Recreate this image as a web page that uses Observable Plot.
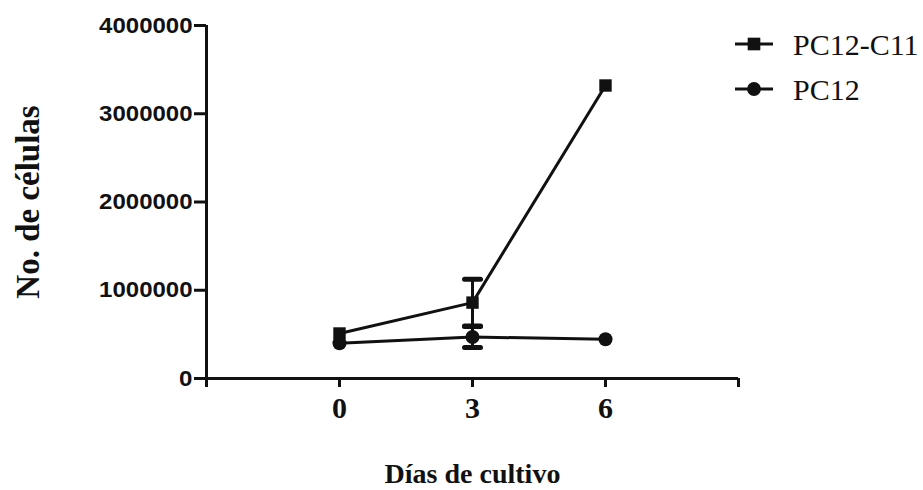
<!DOCTYPE html>
<html>
<head>
<meta charset="utf-8">
<script src="https://cdn.jsdelivr.net/npm/d3@7"></script>
<script src="https://cdn.jsdelivr.net/npm/@observablehq/plot@0.6"></script>
<style>
  body { margin: 0; background: #fff; }
  #wrap { position: relative; width: 923px; height: 490px; }
</style>
</head>
<body>
<div id="wrap"></div>
<script>
const series = ["PC12-C11", "PC12"];
const symbols = ["square", "circle"];
const days = [0, 3, 6];
const pc12c11 = [510000, 860000, 3320000];
const pc12c11Err = [0, 265000, 0];
const pc12 = [400000, 470000, 445000];
const pc12Err = [0, 120000, 0];
const yTicks = [0, 1000000, 2000000, 3000000, 4000000];
const xTicks = [0, 3, 6];
const xDomain = [-3, 9];
const yDomain = [0, 4000000];
const xTitle = "Días de cultivo";
const yTitle = "No. de células";

const rows = [];
days.forEach((d, i) => {
  rows.push({series: series[0], day: d, value: pc12c11[i], err: pc12c11Err[i]});
});
days.forEach((d, i) => {
  rows.push({series: series[1], day: d, value: pc12[i], err: pc12Err[i]});
});
const errRows = rows.filter(r => r.err > 0);

const cap = { draw(ctx) { ctx.moveTo(-8, 0); ctx.lineTo(8, 0); } };
const serif = "Liberation Serif, Times New Roman, serif";
const sans = "Liberation Sans, Arial, sans-serif";

const chart = Plot.plot({
  width: 923,
  height: 490,
  marginLeft: 206,
  marginRight: 185,
  marginTop: 25,
  marginBottom: 112,
  x: {domain: xDomain},
  y: {domain: yDomain},
  symbol: {domain: series, range: symbols},
  style: {background: "white", color: "#111", overflow: "visible"},
  marks: [
    Plot.axisY({ticks: yTicks, tickSize: 12, tickPadding: 2, strokeWidth: 3, tickFormat: d => String(d),
      fontFamily: sans, fontWeight: "bold", fontSize: 22, label: null}),
    Plot.axisX({ticks: [xDomain[0], ...xTicks, xDomain[1]], tickSize: 9, tickPadding: 9, strokeWidth: 3,
      tickFormat: d => xTicks.includes(d) ? String(d) : "",
      fontFamily: serif, fontWeight: "bold", fontSize: 30, label: null}),
    Plot.ruleX([xDomain[0]], {y1: yDomain[0], y2: yDomain[1], strokeWidth: 3, stroke: "#111"}),
    Plot.ruleY([yDomain[0]], {x1: xDomain[0], x2: xDomain[1], strokeWidth: 3, stroke: "#111"}),
    Plot.line(rows, {x: "day", y: "value", z: "series", stroke: "#111", strokeWidth: 3}),
    Plot.ruleX(errRows, {x: "day", y1: r => r.value - r.err, y2: r => r.value + r.err, stroke: "#111", strokeWidth: 3}),
    Plot.dot(errRows, {x: "day", y: r => r.value + r.err, symbol: () => cap, stroke: "#111", strokeWidth: 5, strokeLinecap: "round", r: 6}),
    Plot.dot(errRows, {x: "day", y: r => r.value - r.err, symbol: () => cap, stroke: "#111", strokeWidth: 5, strokeLinecap: "round", r: 6}),
    Plot.dot(rows, {x: "day", y: "value", symbol: "series", fill: "#111", r: 7}),
    Plot.text([yTitle], {frameAnchor: "left", dx: -178, rotate: -90, textAnchor: "middle", fontFamily: serif, fontWeight: "bold", fontSize: 33, fill: "#111", ariaLabel: "ytitle"}),
    Plot.text([xTitle], {frameAnchor: "bottom", dy: 96, textAnchor: "middle", lineAnchor: "middle", fontFamily: serif, fontWeight: "bold", fontSize: 28, fill: "#111", ariaLabel: "xtitle"})
  ]
});
document.getElementById("wrap").append(chart);

// widen the y tick labels as in the reference
chart.querySelectorAll('g[aria-label="y-axis tick label"] text').forEach(t => {
  const len = t.getComputedTextLength();
  if (len > 0) { t.setAttribute("textLength", (len * 1.09).toFixed(1)); t.setAttribute("lengthAdjust", "spacingAndGlyphs"); }
});
chart.querySelectorAll('g[aria-label="xtitle"] text').forEach(t => {
  const len = t.getComputedTextLength();
  if (len > 0) { t.setAttribute("textLength", (len * 1.1).toFixed(1)); t.setAttribute("lengthAdjust", "spacingAndGlyphs"); }
});

// legend, drawn into the same SVG
const svg = d3.select(chart);
const lg = svg.append("g").attr("aria-label", "legend").attr("transform", "translate(754,44)").attr("text-anchor", "start");
series.forEach((s, i) => {
  const g = lg.append("g").attr("transform", `translate(0,${i * 45})`);
  g.append("line").attr("x1", -19).attr("x2", 19).attr("stroke", "#111").attr("stroke-width", 3);
  g.append("path").attr("d", d3.symbol(symbols[i] === "square" ? d3.symbolSquare : d3.symbolCircle, symbols[i] === "square" ? 160 : 150)()).attr("fill", "#111");
  g.append("text").attr("x", 39).attr("dy", "0.35em").attr("text-anchor", "start").attr("font-family", serif).attr("font-size", 30).attr("fill", "#111").text(s);
});
</script>
</body>
</html>
